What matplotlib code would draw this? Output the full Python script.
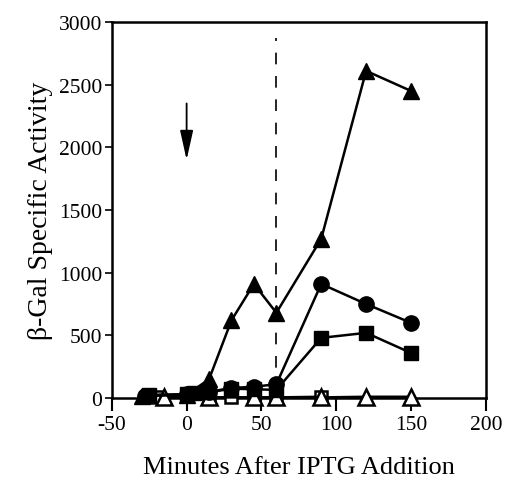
import matplotlib
matplotlib.use("Agg")
import matplotlib.pyplot as plt

plt.rcParams['font.family'] = ['Liberation Serif', 'DejaVu Serif']
plt.rcParams['axes.unicode_minus'] = False

# Data (minutes after IPTG addition, beta-Gal specific activity)
tri_fill_x = [-30, 0, 15, 30, 45, 60, 90, 120, 150]
tri_fill_y = [15, 25, 150, 620, 910, 680, 1270, 2610, 2450]

circ_x = [-28, 0, 15, 30, 45, 60, 90, 120, 150]
circ_y = [20, 30, 50, 80, 90, 110, 910, 750, 600]

sq_x = [-25, 0, 5, 15, 30, 45, 60, 90, 120, 150]
sq_y = [25, 30, 40, 45, 75, 70, 65, 480, 520, 360]

tri_open_x = [-15, 15, 45, 60, 90, 120, 150]
tri_open_y = [5, 5, 5, 5, 5, 10, 10]

sq_open_x = [-20, 15, 30, 45, 60, 90]
sq_open_y = [5, 5, 5, 5, 5, 10]

xticks = [-50, 0, 50, 100, 150, 200]
yticks = [0, 500, 1000, 1500, 2000, 2500, 3000]

fig = plt.figure(figsize=(5.06, 4.89), dpi=100)
ax = fig.add_axes([0.221, 0.184, 0.739, 0.769])

lw = 1.8
ax.plot(sq_open_x, sq_open_y, color='black', lw=lw, marker='s', ms=9,
        mfc='white', mec='black', mew=1.8, clip_on=False, zorder=3)
ax.plot(tri_open_x, tri_open_y, color='black', lw=lw, marker='^', ms=11,
        mfc='white', mec='black', mew=1.8, clip_on=False, zorder=3)
ax.plot(sq_x, sq_y, color='black', lw=lw, marker='s', ms=10,
        mfc='black', mec='black', clip_on=False, zorder=4)
ax.plot(circ_x, circ_y, color='black', lw=lw, marker='o', ms=11,
        mfc='black', mec='black', clip_on=False, zorder=4)
ax.plot(tri_fill_x, tri_fill_y, color='black', lw=lw, marker='^', ms=12,
        mfc='black', mec='black', clip_on=False, zorder=5)

# dashed vertical line at 60 min
ax.plot([60, 60], [60, 2870], color='black', lw=1.2, ls=(0, (7, 7)), zorder=2)

# arrow at 0 min
ax.annotate('', xy=(0, 1900), xytext=(0, 2350),
            arrowprops=dict(arrowstyle='-|>,head_length=1.8,head_width=0.4',
                            color='black', lw=1.3, shrinkA=0, shrinkB=0))

ax.set_xlim(-50, 200)
ax.set_ylim(0, 3000)
ax.set_xticks(xticks)
ax.set_yticks(yticks)
ax.tick_params(axis='x', direction='out', length=9, width=1.5, labelsize=15.5, pad=3)
ax.tick_params(axis='y', direction='out', length=5, width=1.2, labelsize=15.5, pad=2)
for s in ax.spines.values():
    s.set_linewidth(1.8)

ax.set_ylabel('β-Gal Specific Activity', fontsize=20, labelpad=4)
ax.set_xlabel('Minutes After IPTG Addition', fontsize=19, labelpad=16)

fig.savefig('out.png', dpi=100)
